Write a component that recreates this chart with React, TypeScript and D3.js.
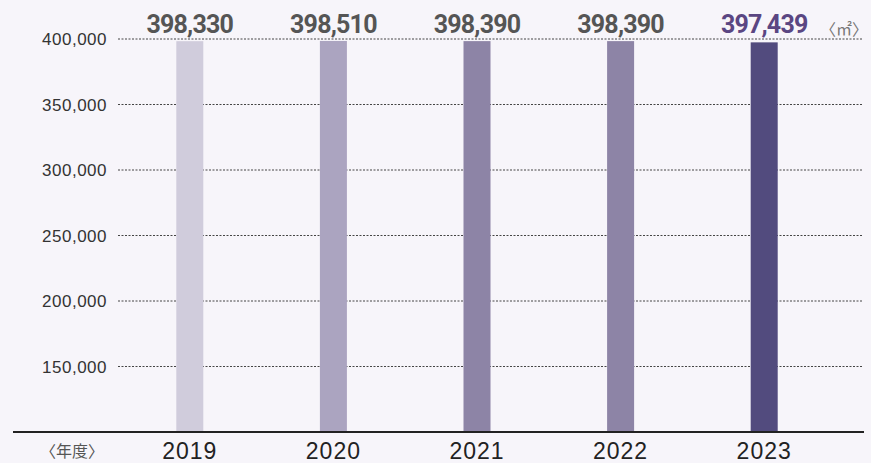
import * as React from "react";
import * as d3 from "d3";

const years = ["2019", "2020", "2021", "2022", "2023"];
const areas = [398330, 398510, 398390, 398390, 397439];
const barColors = ["#d0ccdc", "#aba4c0", "#8d84a6", "#8d84a6", "#524b7e"];
const labelColors = ["#555555", "#555555", "#555555", "#555555", "#5a4682"];
const yTicks = [150000, 200000, 250000, 300000, 350000, 400000];

export default function App() {
  const width = 871;
  const height = 463;
  const baseY = 432;

  const x = d3.scalePoint<string>().domain(years).range([118, 836]).padding(0.5);
  const y = d3.scaleLinear().domain([100000, 400000]).range([baseY, 39]);
  const fmt = d3.format(",");
  const barW = 27;

  return (
    <svg
      width={width}
      height={height}
      style={{ position: "absolute", left: 0, top: 0, display: "block" }}
    >
      <rect width={width} height={height} fill="#f7f5fa" />

      {yTicks.map((t) => (
        <g key={t}>
          <line
            x1={118}
            x2={862}
            y1={y(t)}
            y2={y(t)}
            stroke="#444"
            strokeWidth={1}
            strokeDasharray="2,1.5"
          />
          <text
            x={107}
            y={y(t) + 6}
            textAnchor="end"
            fontFamily="'Liberation Sans', Arial, sans-serif"
            fontSize={17}
            letterSpacing={0.5}
            fill="#333"
          >
            {fmt(t)}
          </text>
        </g>
      ))}

      {years.map((yr, i) => (
        <g key={yr}>
          <rect
            x={(x(yr) as number) - barW / 2}
            y={y(areas[i])}
            width={barW}
            height={baseY - y(areas[i])}
            fill={barColors[i]}
          />
          <text
            x={x(yr)}
            y={33}
            textAnchor="middle"
            fontFamily="Roboto, sans-serif"
            fontWeight={700}
            fontSize={25}
            letterSpacing={-0.8}
            fill={labelColors[i]}
          >
            {fmt(areas[i])}
          </text>
          <text
            x={x(yr)}
            y={459}
            textAnchor="middle"
            fontFamily="'Liberation Sans', Arial, sans-serif"
            fontSize={23}
            letterSpacing={1}
            fill="#222"
          >
            {yr}
          </text>
        </g>
      ))}

      <line x1={13} x2={864} y1={baseY} y2={baseY} stroke="#222" strokeWidth={2} />

      <text
        x={72}
        y={457}
        textAnchor="middle"
        fontFamily="'Noto Sans CJK JP', sans-serif"
        fontSize={16}
        fill="#555"
      >
        〈年度〉
      </text>
      <text
        x={868}
        y={35}
        textAnchor="end"
        fontFamily="'Noto Sans CJK JP', sans-serif"
        fontSize={16}
        fill="#777"
      >
        〈㎡〉
      </text>
    </svg>
  );
}
